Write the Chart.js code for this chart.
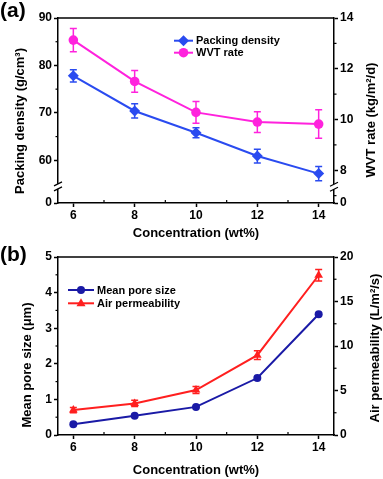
<!DOCTYPE html>
<html>
<head>
<meta charset="utf-8">
<script src="https://cdn.jsdelivr.net/npm/chart.js@4.4.1/dist/chart.umd.min.js"></script>
<style>
html, body { margin: 0; padding: 0; background: #fff; }
canvas { display: block; }
</style>
</head>
<body>
<canvas id="chartA" width="383" height="240"></canvas>
<canvas id="chartB" width="383" height="239"></canvas>
<script>
// data
const concentration = [6, 8, 10, 12, 14]

const packing_density = [77.8, 70.4, 65.8, 60.9, 57.2]
const packing_density_err = [1.3, 1.5, 1.05, 1.45, 1.5]
const wvt_rate = [13.13, 11.5, 10.28, 9.9, 9.82]
const wvt_rate_err = [0.46, 0.43, 0.43, 0.41, 0.56]

const mean_pore_size = [0.30, 0.54, 0.79, 1.60, 3.39]
const air_permeability = [2.8, 3.55, 5.05, 8.97, 17.95]
const air_permeability_err = [0.3, 0.35, 0.4, 0.5, 0.65]

const x_ticks = [6, 8, 10, 12, 14]
const x_minor = [7, 9, 11, 13]
const density_ticks = [51, 60, 70, 80, 90]     // 51 is the broken "0"
const density_minor = [65, 75, 85]
const wvt_ticks = [6.71, 8, 10, 12, 14]         // 6.71 is the broken "0"
const wvt_minor = [7, 9, 11, 13]
const pore_ticks = [0, 1, 2, 3, 4, 5]
const pore_minor = [0.5, 1.5, 2.5, 3.5, 4.5]
const perm_ticks = [0, 5, 10, 15, 20]
const perm_minor = [2.5, 7.5, 12.5, 17.5]

const font_family = "Arial, 'Liberation Sans', sans-serif"

function to_points(values)
{
  return concentration.map((c, i) => ({ x: c, y: values[i] }))
}

function axis(position, min, max, ticks, zero_value, size)
{
  const is_x = position === "bottom"
  return {
    type: "linear",
    position: position,
    min: min,
    max: max,
    afterBuildTicks: (scale) => { scale.ticks = ticks.map(v => ({ value: v })) },
    afterFit: (scale) =>
    {
      if (is_x) scale.height = size
      else scale.width = size
    },
    border: { color: "#000", width: 1.5 },
    grid: { drawOnChartArea: false, tickLength: 4, tickColor: "#000", tickWidth: 1.5 },
    ticks:
    {
      autoSkip: false,
      maxRotation: 0,
      padding: is_x ? 1 : 2,
      color: "#000",
      font: { family: font_family, size: 12, weight: "bold" },
      callback: (value) => value === zero_value ? "0" : String(value)
    }
  }
}

const error_bars =
{
  id: "error_bars",
  beforeDatasetsDraw(chart)
  {
    const ctx = chart.ctx
    chart.data.datasets.forEach((ds, i) =>
    {
      if (!ds.errors) return
      const meta = chart.getDatasetMeta(i)
      const y_scale = chart.scales[ds.yAxisID]
      ctx.save()
      ctx.strokeStyle = ds.borderColor
      ctx.lineWidth = 1.5
      meta.data.forEach((pt, j) =>
      {
        const v = ds.data[j].y
        const top = y_scale.getPixelForValue(v + ds.errors[j])
        const bottom = y_scale.getPixelForValue(v - ds.errors[j])
        ctx.beginPath()
        ctx.moveTo(pt.x, top)
        ctx.lineTo(pt.x, bottom)
        ctx.moveTo(pt.x - 3.5, top)
        ctx.lineTo(pt.x + 3.5, top)
        ctx.moveTo(pt.x - 3.5, bottom)
        ctx.lineTo(pt.x + 3.5, bottom)
        ctx.stroke()
      })
      ctx.restore()
    })
  }
}

function draw_marker(ctx, style, x, y, r)
{
  ctx.beginPath()
  if (style === "circle")
  {
    ctx.arc(x, y, r, 0, Math.PI * 2)
  }
  else if (style === "rectRot")
  {
    ctx.moveTo(x, y - r)
    ctx.lineTo(x + r, y)
    ctx.lineTo(x, y + r)
    ctx.lineTo(x - r, y)
    ctx.closePath()
  }
  else
  {
    ctx.moveTo(x, y - r)
    ctx.lineTo(x + r * 0.9, y + r * 0.6)
    ctx.lineTo(x - r * 0.9, y + r * 0.6)
    ctx.closePath()
  }
  ctx.fill()
}

// frame, minor ticks, axis breaks, legend and titles
function decorations(cfg)
{
  return {
    id: "decorations",
    afterDraw(chart)
    {
      const ctx = chart.ctx
      const area = chart.chartArea
      ctx.save()
      ctx.strokeStyle = "#000"
      ctx.fillStyle = "#000"
      ctx.lineWidth = 1.5

      // top frame line
      ctx.beginPath()
      ctx.moveTo(area.left, area.top)
      ctx.lineTo(area.right, area.top)
      ctx.stroke()

      // minor ticks
      ctx.lineWidth = 1.2
      cfg.minor.forEach(m =>
      {
        const scale = chart.scales[m.id]
        m.values.forEach(v =>
        {
          const p = scale.getPixelForValue(v)
          ctx.beginPath()
          if (m.id === "x") { ctx.moveTo(p, area.bottom); ctx.lineTo(p, area.bottom - 3) }
          else if (scale.position === "left") { ctx.moveTo(area.left, p); ctx.lineTo(area.left - 2.5, p) }
          else { ctx.moveTo(area.right, p); ctx.lineTo(area.right + 2.5, p) }
          ctx.stroke()
        })
      })

      // axis breaks
      cfg.breaks.forEach(b =>
      {
        const scale = chart.scales[b.id]
        const y = scale.getPixelForValue(b.value)
        const x = scale.position === "left" ? area.left : area.right
        ctx.fillStyle = "#fff"
        ctx.fillRect(x - 3, y - 2.5, 6, 5)
        ctx.strokeStyle = "#000"
        ctx.lineWidth = 1.2
        ctx.beginPath()
        ctx.moveTo(x - 4, y - 0.5); ctx.lineTo(x + 4, y - 4.5)
        ctx.moveTo(x - 4, y + 4.5); ctx.lineTo(x + 4, y + 0.5)
        ctx.stroke()
      })

      // legend
      const datasets = chart.data.datasets
      cfg.legend.rows.forEach((row_y, i) =>
      {
        const ds = datasets[i]
        const x0 = cfg.legend.x0
        const x1 = cfg.legend.x1
        ctx.strokeStyle = ds.borderColor
        ctx.fillStyle = ds.borderColor
        ctx.lineWidth = 2
        ctx.beginPath()
        ctx.moveTo(x0, row_y)
        ctx.lineTo(x1, row_y)
        ctx.stroke()
        draw_marker(ctx, ds.pointStyle, (x0 + x1) / 2, row_y, ds.pointRadius)
        ctx.fillStyle = "#000"
        ctx.font = "bold 11px " + font_family
        ctx.textAlign = "left"
        ctx.textBaseline = "middle"
        ctx.fillText(ds.label, x1 + 3, row_y + 0.5)
      })

      // panel label
      ctx.fillStyle = "#000"
      ctx.font = "bold 21px " + font_family
      ctx.textAlign = "left"
      ctx.textBaseline = "middle"
      ctx.fillText(cfg.panel, 0, cfg.panel_y)

      // axis titles
      ctx.font = "bold 13px " + font_family
      ctx.textAlign = "center"
      ctx.fillText(cfg.x_title, (area.left + area.right) / 2, cfg.x_title_y)
      cfg.y_titles.forEach(t =>
      {
        ctx.save()
        ctx.translate(t.x, t.y)
        ctx.rotate(-Math.PI / 2)
        ctx.fillText(t.text, 0, 0)
        ctx.restore()
      })
      ctx.restore()
    }
  }
}

new Chart(document.getElementById("chartA").getContext("2d"),
{
  type: "line",
  data:
  {
    datasets:
    [
      {
        label: "Packing density",
        data: to_points(packing_density),
        errors: packing_density_err,
        yAxisID: "y",
        borderColor: "#2a4bf0",
        backgroundColor: "#2a4bf0",
        borderWidth: 2,
        pointStyle: "rectRot",
        pointRadius: 5.5,
        pointBorderWidth: 0
      },
      {
        label: "WVT rate",
        data: to_points(wvt_rate),
        errors: wvt_rate_err,
        yAxisID: "y1",
        borderColor: "#ff22dd",
        backgroundColor: "#ff22dd",
        borderWidth: 2,
        pointStyle: "circle",
        pointRadius: 4.8,
        pointBorderWidth: 0
      }
    ]
  },
  options:
  {
    responsive: false,
    animation: false,
    layout: { padding: { top: 18, left: 0, right: 0, bottom: 0 } },
    plugins: { legend: { display: false }, tooltip: { enabled: false } },
    scales:
    {
      x: axis("bottom", 5.5, 14.5, x_ticks, null, 37),
      y: axis("left", 51, 90, density_ticks, 51, 58),
      y1: axis("right", 6.71, 14, wvt_ticks, 6.71, 49)
    }
  },
  plugins:
  [
    error_bars,
    decorations(
    {
      panel: "(a)",
      panel_y: 11,
      x_title: "Concentration (wt%)",
      x_title_y: 233,
      y_titles:
      [
        { text: "Packing density (g/cm³)", x: 20, y: 121 },
        { text: "WVT rate (kg/m²/d)", x: 371, y: 120 }
      ],
      minor:
      [
        { id: "x", values: x_minor },
        { id: "y", values: density_minor },
        { id: "y1", values: wvt_minor }
      ],
      breaks: [ { id: "y", value: 54.5 }, { id: "y1", value: 7.35 } ],
      legend: { x0: 174, x1: 193, rows: [40.7, 52.7] }
    })
  ]
})

new Chart(document.getElementById("chartB").getContext("2d"),
{
  type: "line",
  data:
  {
    datasets:
    [
      {
        label: "Mean pore size",
        data: to_points(mean_pore_size),
        yAxisID: "y",
        borderColor: "#1a1aa6",
        backgroundColor: "#1a1aa6",
        borderWidth: 2,
        pointStyle: "circle",
        pointRadius: 4,
        pointBorderWidth: 0
      },
      {
        label: "Air permeability",
        data: to_points(air_permeability),
        errors: air_permeability_err,
        yAxisID: "y1",
        borderColor: "#ff1f1f",
        backgroundColor: "#ff1f1f",
        borderWidth: 2,
        pointStyle: "triangle",
        pointRadius: 5,
        pointBorderWidth: 0
      }
    ]
  },
  options:
  {
    responsive: false,
    animation: false,
    layout: { padding: { top: 17, left: 0, right: 0, bottom: 0 } },
    plugins: { legend: { display: false }, tooltip: { enabled: false } },
    scales:
    {
      x: axis("bottom", 5.5, 14.5, x_ticks, null, 44),
      y: axis("left", 0, 5, pore_ticks, null, 58),
      y1: axis("right", 0, 20, perm_ticks, null, 49)
    }
  },
  plugins:
  [
    error_bars,
    decorations(
    {
      panel: "(b)",
      panel_y: 15,
      x_title: "Concentration (wt%)",
      x_title_y: 230,
      y_titles:
      [
        { text: "Mean pore size (μm)", x: 27, y: 125 },
        { text: "Air permeability (L/m²/s)", x: 375, y: 108 }
      ],
      minor:
      [
        { id: "x", values: x_minor },
        { id: "y", values: pore_minor },
        { id: "y1", values: perm_minor }
      ],
      breaks: [],
      legend: { x0: 68, x1: 94, rows: [50, 63.3] }
    })
  ]
})
</script>
</body>
</html>
